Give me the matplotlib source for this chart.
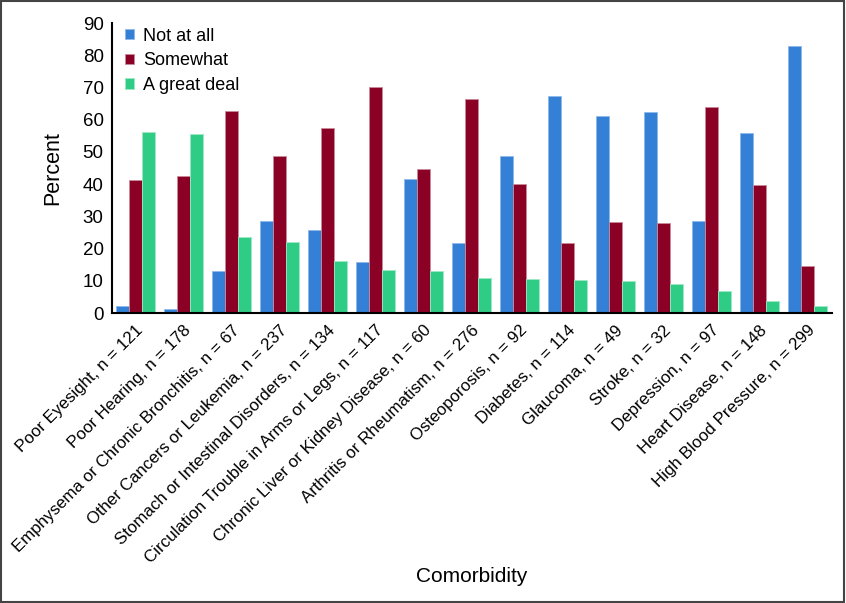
import numpy as np
import matplotlib.pyplot as plt
import matplotlib.patches as mpatches

plt.rcParams['font.family'] = ['Liberation Sans', 'DejaVu Sans']

categories = ['Poor Eyesight, n = 121', 'Poor Hearing, n = 178',
              'Emphysema or Chronic Bronchitis, n = 67',
              'Other Cancers or Leukemia, n = 237',
              'Stomach or Intestinal Disorders, n = 134',
              'Circulation Trouble in Arms or Legs, n = 117',
              'Chronic Liver or Kidney Disease, n = 60',
              'Arthritis or Rheumatism, n = 276', 'Osteoporosis, n = 92',
              'Diabetes, n = 114', 'Glaucoma, n = 49', 'Stroke, n = 32',
              'Depression, n = 97', 'Heart Disease, n = 148',
              'High Blood Pressure, n = 299']
not_at_all = [2.3, 1.3, 13.1, 28.6, 25.9, 15.9, 41.6, 21.8, 48.7, 67.4, 61.1, 62.4, 28.7, 56.0, 82.9]
somewhat = [41.2, 42.6, 62.6, 48.8, 57.3, 70.0, 44.8, 66.5, 40.0, 21.7, 28.3, 27.9, 63.8, 39.7, 14.5]
great_deal = [56.1, 55.4, 23.6, 22.1, 16.1, 13.4, 13.0, 11.0, 10.7, 10.2, 9.9, 9.1, 6.9, 3.7, 2.1]

fig = plt.figure(figsize=(8.46, 6.03), dpi=100)
ax = fig.add_axes([112/846, 1 - 313/603, 720/846, 290/603])

x = np.arange(len(categories))
w = 0.27
ax.bar(x - w, not_at_all, w, color='#3380D6', edgecolor='#8fb8ea', linewidth=0.6, label='Not at all')
ax.bar(x, somewhat, w, color='#8B0025', edgecolor='#c98a9a', linewidth=0.6, label='Somewhat')
ax.bar(x + w, great_deal, w, color='#2ECC85', edgecolor='#9fe8c5', linewidth=0.6, label='A great deal')

ax.set_xlim(-0.49, 14.51)
ax.set_ylim(0, 90)
ax.set_yticks(range(0, 91, 10))
ax.tick_params(axis='y', length=0, labelsize=13.5, pad=6)
ax.tick_params(axis='x', length=0, pad=7)
ax.set_xticks(x)
ax.set_xticklabels(categories, rotation=45, ha='right', rotation_mode='anchor', fontsize=12.2)
for s in ['top', 'right']:
    ax.spines[s].set_visible(False)
ax.spines['left'].set_linewidth(1.5)
ax.spines['bottom'].set_linewidth(1.5)

ax.set_ylabel('Percent', fontsize=15.5, labelpad=14)
fig.text(472/846, 1 - 577/603, 'Comorbidity', fontsize=15, ha='center', va='center')

ax.legend(loc='upper left', bbox_to_anchor=(-0.005, 1.04), frameon=False, fontsize=13,
          handlelength=0.5, handleheight=0.5, handletextpad=0.5, labelspacing=0.42)

fig.patches.append(mpatches.Rectangle((0.001, 0.001), 0.997, 0.997, transform=fig.transFigure,
                                      fill=False, edgecolor='#444444', linewidth=1.5))

fig.savefig('out.png', dpi=100)
